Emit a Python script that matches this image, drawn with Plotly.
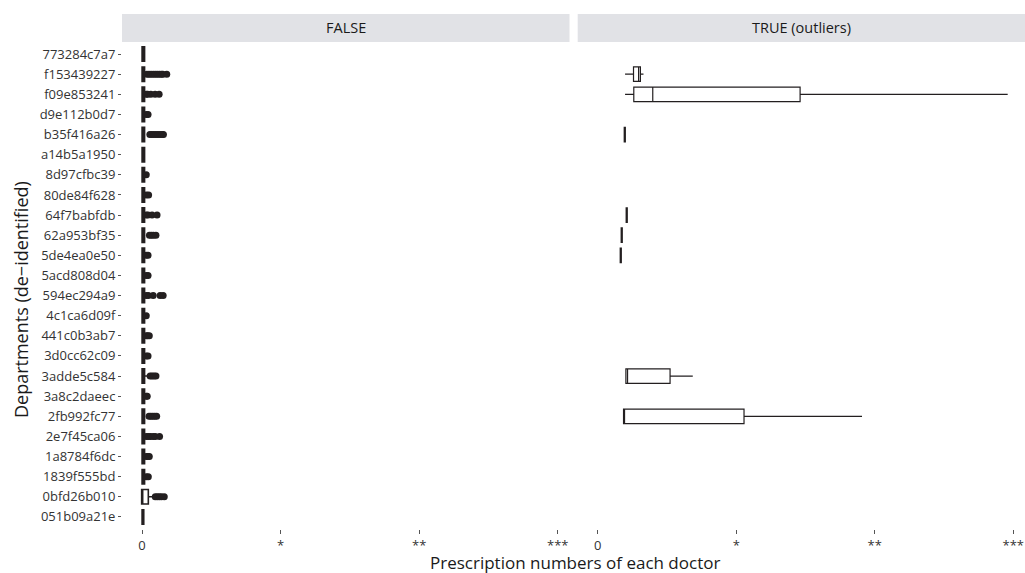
import plotly.graph_objects as go

# ---------------- data ----------------
departments = ["773284c7a7", "f153439227", "f09e853241", "d9e112b0d7", "b35f416a26",
               "a14b5a1950", "8d97cfbc39", "80de84f628", "64f7babfdb", "62a953bf35",
               "5de4ea0e50", "5acd808d04", "594ec294a9", "4c1ca6d09f", "441c0b3ab7",
               "3d0cc62c09", "3adde5c584", "3a8c2daeec", "2fb992fc77", "2e7f45ca06",
               "1a8784f6dc", "1839f555bd", "0bfd26b010", "051b09a21e"]

# FALSE panel (non-outlier doctors) box stats, one per department
false_q1 = [0.0] * 22 + [-0.003, 0.0]
false_median = [0.005] * 22 + [0.003, 0.004]
false_q3 = [0.018] * 22 + [0.045, 0.012]
false_low = [0.0] * 22 + [-0.004, 0.0]
false_high = [0.018, 0.028, 0.028, 0.025, 0.018, 0.018, 0.022, 0.025, 0.028, 0.018,
              0.025, 0.025, 0.028, 0.022, 0.028, 0.025, 0.040, 0.025, 0.018, 0.028,
              0.028, 0.025, 0.080, 0.015]

# FALSE panel outlier points per department
false_outliers = [
    [],
    [0.035, 0.05, 0.065, 0.08, 0.095, 0.11, 0.125, 0.14, 0.15, 0.178],
    [0.03, 0.04, 0.063, 0.094, 0.123],
    [0.03, 0.043],
    [0.056, 0.07, 0.085, 0.1, 0.115, 0.13, 0.145, 0.154],
    [],
    [0.03],
    [0.03, 0.047],
    [0.03, 0.043, 0.072, 0.108],
    [0.053, 0.067, 0.082, 0.1],
    [0.03, 0.043],
    [0.03, 0.043],
    [0.03, 0.045, 0.08, 0.13, 0.152],
    [0.03],
    [0.03, 0.04, 0.052],
    [0.03, 0.043],
    [0.058, 0.072, 0.086, 0.1],
    [0.03, 0.037],
    [0.05, 0.063, 0.077, 0.091, 0.105],
    [0.03, 0.045, 0.06, 0.08, 0.095, 0.126],
    [0.03, 0.042, 0.052],
    [0.03, 0.045],
    [0.095, 0.11, 0.125, 0.14, 0.16],
    [],
]

# TRUE (outliers) panel box stats
true_departments = ["f153439227", "f09e853241", "b35f416a26", "64f7babfdb",
                    "62a953bf35", "5de4ea0e50", "3adde5c584", "2fb992fc77"]
true_q1 = [0.258, 0.260, 0.191, 0.205, 0.169, 0.162, 0.203, 0.186]
true_median = [0.295, 0.397, 0.195, 0.209, 0.173, 0.166, 0.215, 0.187]
true_q3 = [0.308, 1.461, 0.199, 0.213, 0.177, 0.170, 0.522, 1.056]
true_low = [0.197, 0.197, 0.191, 0.205, 0.169, 0.162, 0.203, 0.186]
true_high = [0.33, 2.96, 0.199, 0.213, 0.177, 0.170, 0.686, 1.908]

tick_vals = [0, 1, 2, 3]
tick_text = ["0", "*", "**", "***"]

# ---------------- figure ----------------
INK = "#231f20"
FONT = "Open Sans"

fig = go.Figure()

fig.add_trace(go.Box(
    orientation="h", y=departments, q1=false_q1, median=false_median, q3=false_q3,
    lowerfence=false_low, upperfence=false_high, width=0.72, whiskerwidth=0,
    line=dict(color=INK, width=1.6), fillcolor="white", boxpoints=False,
    xaxis="x", yaxis="y", showlegend=False))

out_x, out_y = [], []
for dep, vals in zip(departments, false_outliers):
    for v in vals:
        out_x.append(v)
        out_y.append(dep)
fig.add_trace(go.Scatter(
    x=out_x, y=out_y, mode="markers", marker=dict(color=INK, size=7),
    xaxis="x", yaxis="y", showlegend=False))

fig.add_trace(go.Box(
    orientation="h", y=true_departments, q1=true_q1, median=true_median, q3=true_q3,
    lowerfence=true_low, upperfence=true_high, width=0.72, whiskerwidth=0,
    line=dict(color=INK, width=1.2), fillcolor="white", boxpoints=False,
    xaxis="x2", yaxis="y", showlegend=False))

W, H = 1025, 573
ml, mr, mt = 122, 0, 42
plot_bottom = 529
mb = H - plot_bottom
pw = W - ml - mr
ph = H - mt - mb
d1 = (569.5 - ml) / pw
d2 = (577.7 - ml) / pw

xcommon = dict(range=[-0.145, 3.085], tickvals=tick_vals, ticktext=tick_text,
               showgrid=False, zeroline=False, showline=False,
               ticks="outside", ticklen=4, tickcolor="#555", tickwidth=1,
               ticklabeloverflow="allow",
               tickfont=dict(family=FONT, size=13, color="#333"))

fig.update_layout(
    width=W, height=H, margin=dict(l=ml, r=mr, t=mt, b=mb, pad=0),
    paper_bgcolor="white", plot_bgcolor="white",
    font=dict(family=FONT, color="#222"),
    xaxis=dict(domain=[0, d1], anchor="y", **xcommon),
    xaxis2=dict(domain=[d2, 1], anchor="y", **xcommon),
    yaxis=dict(categoryorder="array", categoryarray=departments,
               range=[len(departments) - 1 + 0.6, -0.6],
               showgrid=False, zeroline=False, showline=False,
               ticks="outside", ticklen=3, tickcolor="#555",
               tickfont=dict(family=FONT, size=13, color="#333")),
)

strip_top = 1 + 28 / ph
for x0, x1, label in [(0, d1, "FALSE"), (d2, 1, "TRUE (outliers)")]:
    fig.add_shape(type="rect", xref="paper", yref="paper", x0=x0, x1=x1,
                  y0=1.0, y1=strip_top, fillcolor="#e1e2e6", line=dict(width=0))
    fig.add_annotation(xref="paper", yref="paper", x=(x0 + x1) / 2, y=(1 + strip_top) / 2,
                       text=label, showarrow=False, xanchor="center", yanchor="middle",
                       font=dict(family=FONT, size=14.5, color="#1a1a1a"))

fig.add_annotation(xref="paper", yref="paper", x=(575 - ml) / pw,
                   y=-(562 - plot_bottom) / ph,
                   text="Prescription numbers of each doctor", showarrow=False,
                   xanchor="center", yanchor="middle",
                   font=dict(family=FONT, size=17, color="#1a1a1a"))
fig.add_annotation(xref="paper", yref="paper", x=(21 - ml) / pw, y=(plot_bottom - 300) / ph,
                   text="Departments (de−identified)", showarrow=False, textangle=-90,
                   xanchor="center", yanchor="middle",
                   font=dict(family=FONT, size=18, color="#1a1a1a"))

fig.write_html(
    "out.html",
    config={"displayModeBar": False},
    post_script="document.body.style.margin='0';document.body.style.overflow='hidden';",
)
